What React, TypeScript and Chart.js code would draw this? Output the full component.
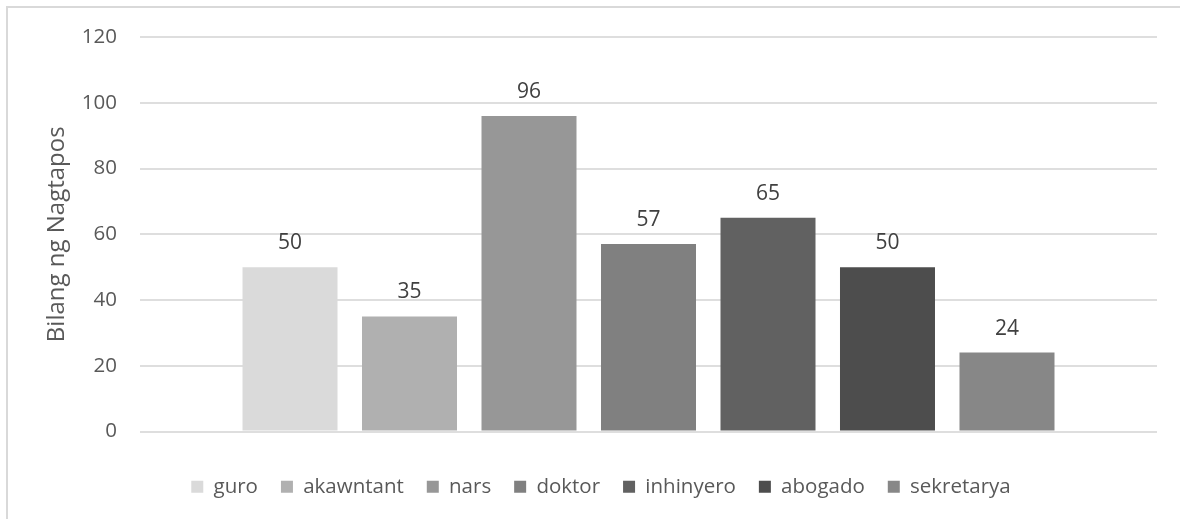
import React, { useEffect, useRef } from "react";
import { Chart, registerables } from "chart.js";

Chart.register(...registerables);

const categories: string[] = [""];
const seriesNames: string[] = ["guro", "akawntant", "nars", "doktor", "inhinyero", "abogado", "sekretarya"];
const seriesValues: number[] = [50, 35, 96, 57, 65, 50, 24];
const seriesColors: string[] = ["#DADADA", "#B0B0B0", "#979797", "#808080", "#616161", "#4D4D4D", "#878787"];
const yTicks: number[] = [0, 20, 40, 60, 80, 100, 120];
const yTitle = "Bilang ng Nagtapos";

const FONT = "'Open Sans', sans-serif";

const dataLabelPlugin = {
  id: "dataLabels",
  afterDatasetsDraw(chart: any) {
    const ctx = chart.ctx;
    ctx.save();
    ctx.font = `21px ${FONT}`;
    ctx.fillStyle = "#404040";
    ctx.textAlign = "center";
    ctx.textBaseline = "middle";
    chart.data.datasets.forEach((ds: any, i: number) => {
      const meta = chart.getDatasetMeta(i);
      meta.data.forEach((bar: any, j: number) => {
        const v = ds.data[j];
        ctx.fillText(String(v), bar.x, bar.y - 24);
      });
    });
    ctx.restore();
  },
};

export default function App() {
  const ref = useRef<HTMLCanvasElement | null>(null);
  useEffect(() => {
    if (!ref.current) return;
    const chart = new Chart(ref.current, {
      type: "bar",
      data: {
        labels: categories,
        datasets: seriesNames.map((name, i) => ({
          label: name,
          data: [seriesValues[i]],
          backgroundColor: seriesColors[i],
          borderWidth: 0,
          categoryPercentage: 0.8225,
          barPercentage: 0.795,
        })),
      },
      options: {
        animation: false,
        responsive: false,
        maintainAspectRatio: false,
        layout: { padding: { left: 37, right: 23, top: 29, bottom: 12 } },
        plugins: {
          legend: {
            position: "bottom",
            labels: {
              boxWidth: 12,
              boxHeight: 12,
              padding: 23,
              color: "#595959",
              font: { family: FONT, size: 20.5 },
            },
          },
          tooltip: { enabled: false },
        },
        scales: {
          x: {
            grid: { display: false, drawTicks: false },
            border: { display: false },
            ticks: { display: false },
            afterFit: (scale: any) => {
              scale.height = 22;
            },
          },
          y: {
            min: 0,
            max: 120,
            afterBuildTicks: (scale: any) => {
              scale.ticks = yTicks.map((v) => ({ value: v }));
            },
            afterFit: (scale: any) => {
              scale.width = 95;
              scale.paddingTop = 0;
              scale.paddingBottom = 0;
            },
            grid: { color: "#DEDEDE", lineWidth: 2, drawTicks: false },
            border: { display: false },
            ticks: {
              padding: 23,
              color: "#595959",
              font: { family: FONT, size: 20.5 },
            },
            title: {
              display: true,
              text: yTitle,
              color: "#595959",
              font: { family: FONT, size: 24, lineHeight: 1 },
              padding: { top: 0, bottom: 0 },
            },
          },
        },
      },
      plugins: [dataLabelPlugin],
    });
    return () => chart.destroy();
  }, []);
  return (
    <div
      style={{
        position: "fixed",
        left: 6,
        top: 6,
        right: 0,
        bottom: 0,
        borderLeft: "2px solid #D9D9D9",
        borderTop: "2px solid #D9D9D9",
        background: "#fff",
      }}
    >
      <canvas ref={ref} width={1172} height={511} style={{ display: "block" }} />
    </div>
  );
}
